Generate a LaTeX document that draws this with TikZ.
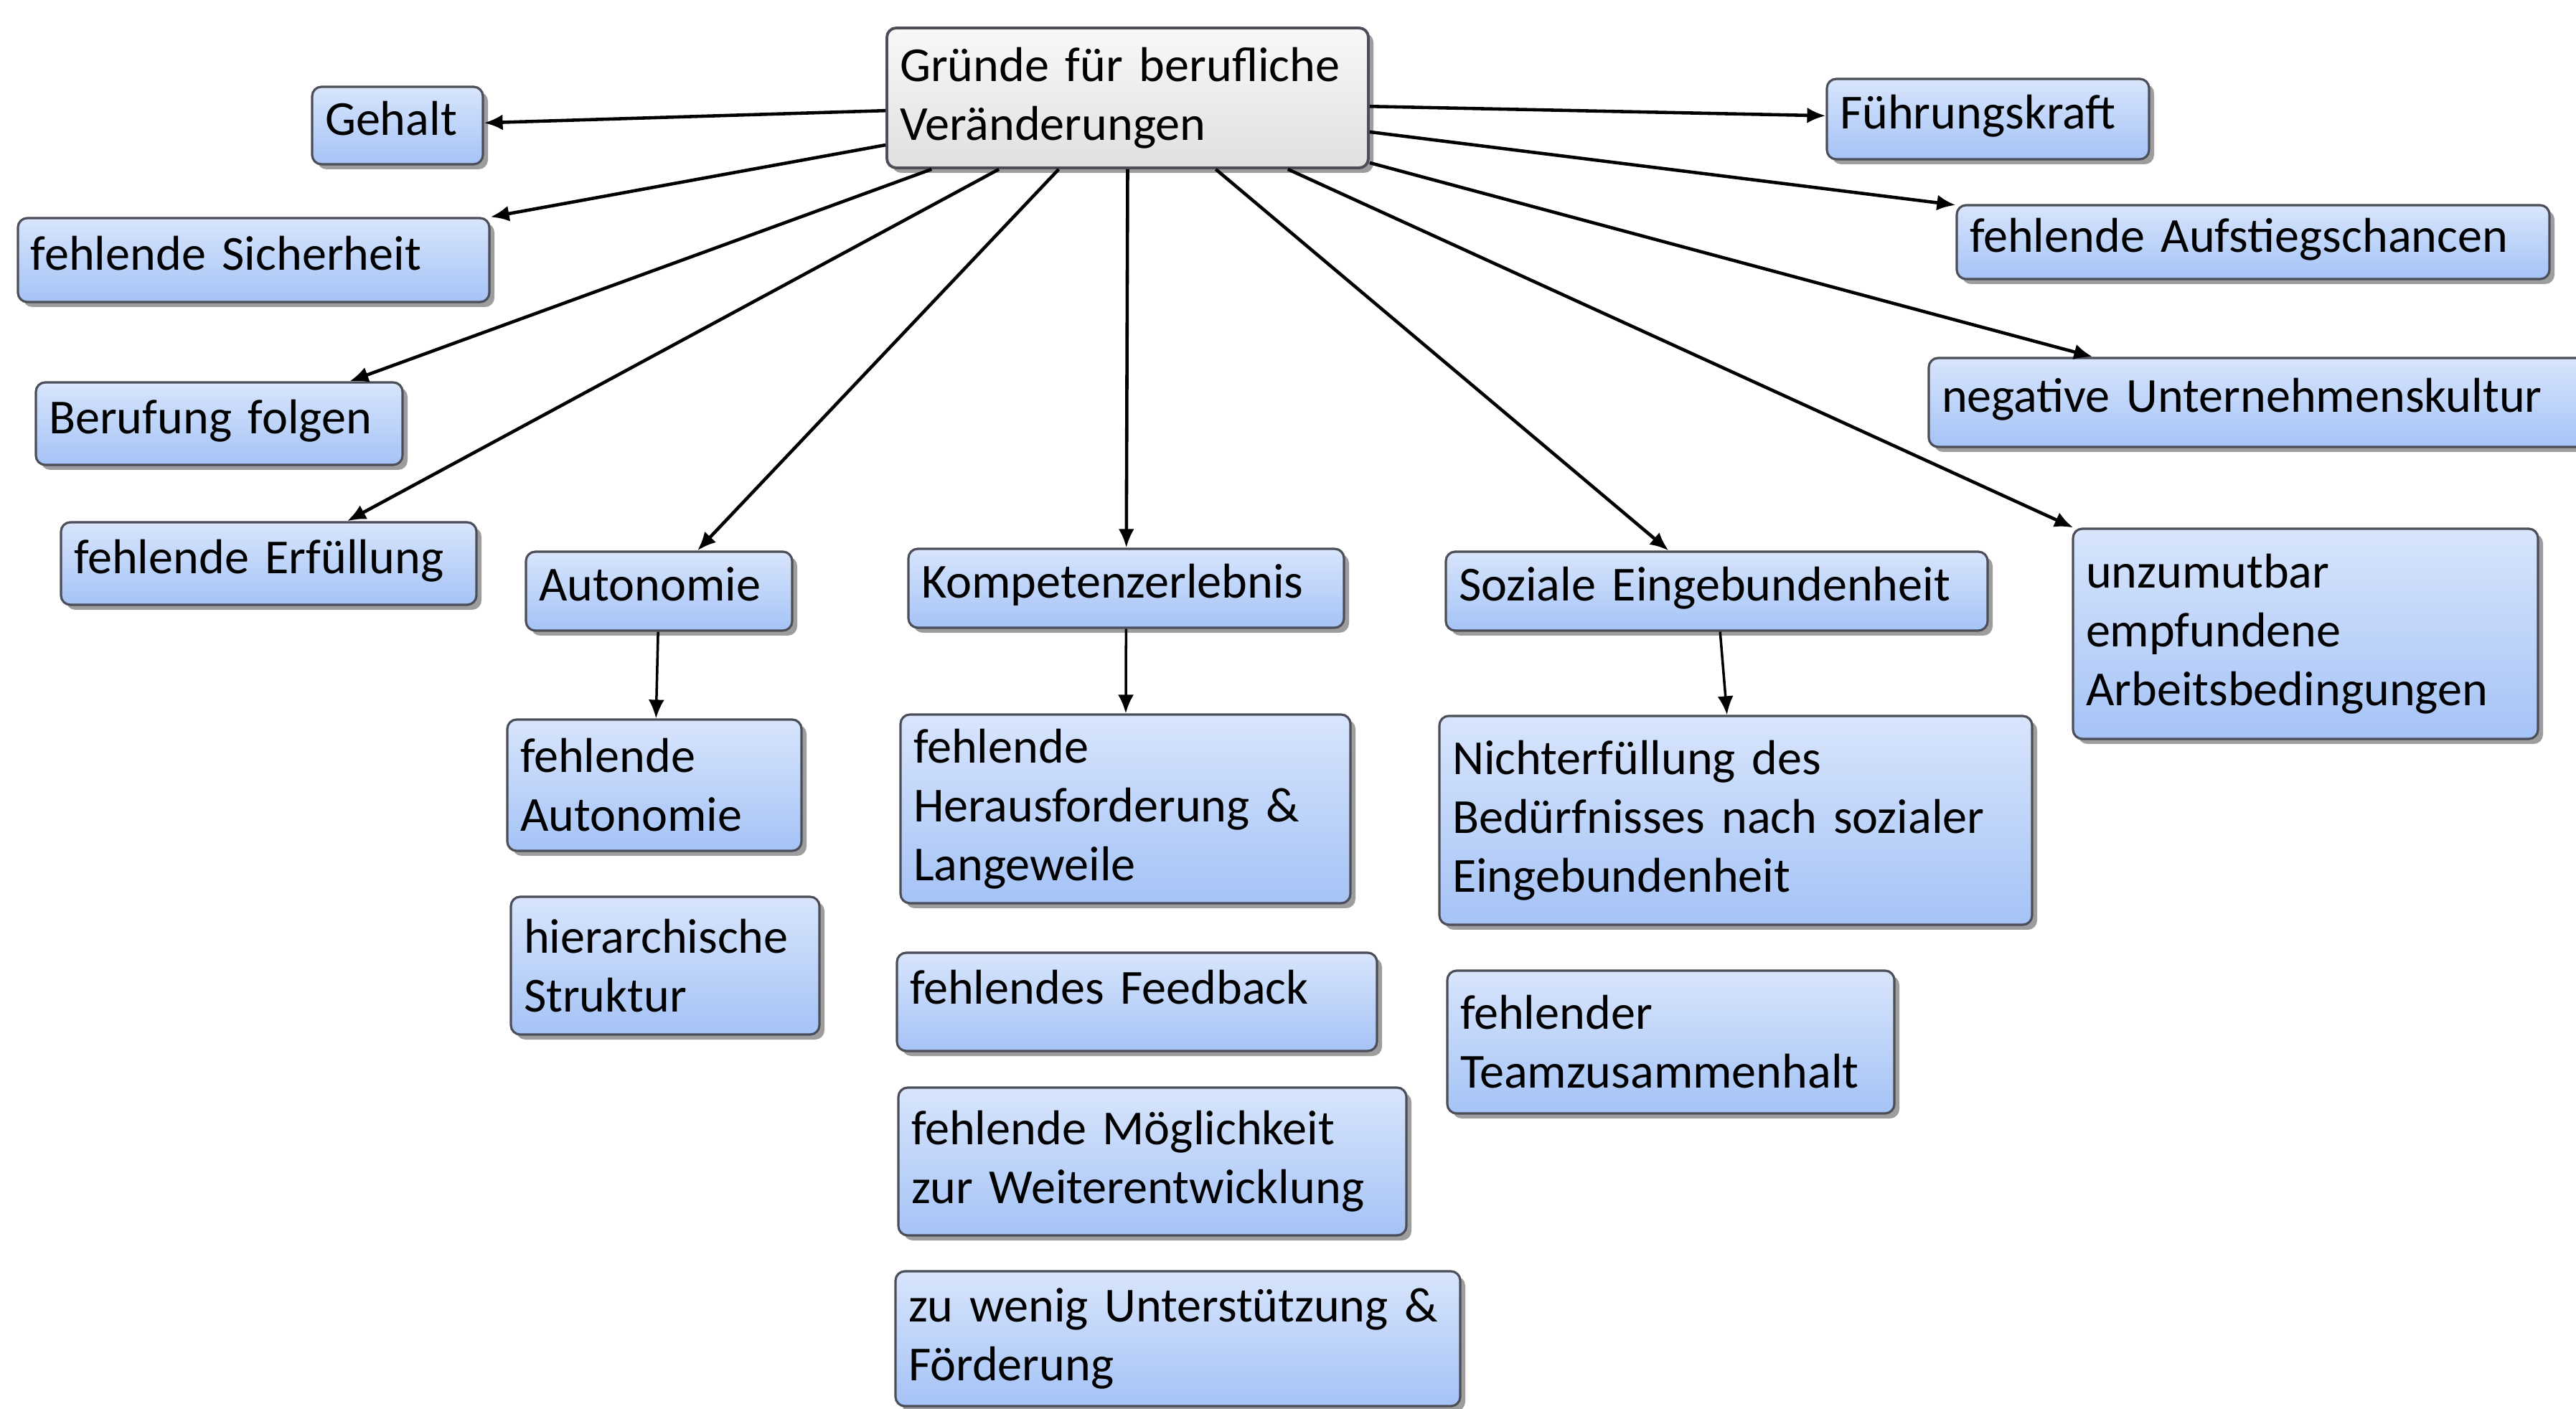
\documentclass[tikz,border=0pt]{standalone}
\usepackage{fontspec}
\setmainfont{Carlito}
\usetikzlibrary{shadows,arrows.meta}

\definecolor{boxtop}{RGB}{216,229,252}
\definecolor{boxbot}{RGB}{165,195,246}
\definecolor{boxline}{RGB}{75,78,88}
\definecolor{roottop}{RGB}{248,248,248}
\definecolor{rootbot}{RGB}{224,224,224}

\begin{document}
\begin{tikzpicture}[>={Latex[length=0.26cm,width=0.22cm]},
    font=\fontsize{19.4}{23.3}\selectfont,
    bx/.style 2 args={draw=boxline, line width=0.9pt, rounded corners=0.13cm,
               top color=boxtop, bottom color=boxbot,
               text width=#1cm, minimum height=#2cm, align=left,
               inner xsep=0.18cm, inner ysep=0.05cm,
               drop shadow={shadow xshift=0.07cm, shadow yshift=-0.07cm,
                            fill=black!70, opacity=0.55}},
    oneline/.style={text depth=0.2cm},
    rootbx/.style={bx={6.35}{1.95}, top color=roottop, bottom color=rootbot,
                   line width=1.1pt},
    arr/.style={->, line width=1.3pt},
    subarr/.style={->, line width=1pt}
]
    \useasboundingbox (0,0) rectangle (35.9,-19.64);

    % Center
    \node[rootbx] (root) at (15.715,-1.365) {Gründe für berufliche\\Veränderungen};

    % Left side
    \node[bx={2.02}{1.08}, oneline] (gehalt) at (5.54,-1.75) {Gehalt};
    \node[bx={6.21}{1.17}, oneline] (sich)   at (3.535,-3.625) {fehlende Sicherheit};
    \node[bx={4.75}{1.15}, oneline] (beruf)  at (3.055,-5.905) {Berufung folgen};
    \node[bx={5.43}{1.15}, oneline] (erf)    at (3.745,-7.855) {fehlende Erfüllung};

    % Right side
    \node[bx={4.13}{1.12}, oneline] (fuehr)   at (27.705,-1.66) {Führungskraft};
    \node[bx={7.90}{1.03}, oneline] (aufst)   at (31.40,-3.375) {fehlende Aufstiegschancen};
    \node[bx={8.94}{1.24}, oneline] (negkult) at (31.53,-5.61) {negative Unternehmenskultur};
    \node[bx={6.12}{2.93}] (unzu) at (32.13,-8.835) {unzumutbar\\empfundene\\Arbeitsbedingungen};

    % Basic needs
    \node[bx={3.35}{1.10}, oneline] (auto)   at (9.185,-8.24) {Autonomie};
    \node[bx={5.71}{1.10}, oneline] (komp)   at (15.695,-8.20) {Kompetenzerlebnis};
    \node[bx={7.19}{1.10}, oneline] (sozial) at (23.925,-8.24) {Soziale Eingebundenheit};

    % Autonomie column
    \node[bx={3.74}{1.83}] (fauto) at (9.12,-10.945) {fehlende\\Autonomie};
    \node[bx={3.94}{1.92}] (hier)  at (9.27,-13.46) {hierarchische\\Struktur};

    % Kompetenz column
    \node[bx={5.91}{2.63}] (herausf) at (15.685,-11.275) {fehlende\\Herausforderung \&\\Langeweile};
    \node[bx={6.33}{1.37}, text depth=0.42cm] (feedback) at (15.845,-13.965) {fehlendes Feedback};
    \node[bx={6.72}{2.06}] (moegl)   at (16.06,-16.19) {fehlende Möglichkeit\\zur Weiterentwicklung};
    \node[bx={7.51}{1.88}] (zuwenig) at (16.415,-18.66) {zu wenig Unterstützung \&\\Förderung};

    % Sozial column
    \node[bx={7.90}{2.91}] (nicht) at (24.19,-11.435) {Nichterfüllung des\\Bedürfnisses nach sozialer\\Eingebundenheit};
    \node[bx={5.87}{1.99}] (team)  at (23.285,-14.525) {fehlender\\Teamzusammenhalt};

    % Arrows from the center
    \draw[arr] (root.183) -- (gehalt);
    \draw[arr] (root.191) -- (sich);
    \draw[arr] (root.200) -- (beruf.18);
    \draw[arr] (root.209) -- (erf);
    \draw[arr] (root.226) -- (auto);
    \draw[arr] (root.270) -- (komp);
    \draw[arr] (root.321) -- (sozial);
    \draw[arr] (root.336) -- (unzu);
    \draw[arr] (root.345) -- (negkult);
    \draw[arr] (root.352.5) -- (aufst);
    \draw[arr] (root.358) -- (fuehr);

    % Arrows to the sub-items
    \draw[subarr] (auto) -- (fauto);
    \draw[subarr] (komp) -- (herausf);
    \draw[subarr] (sozial) -- (nicht);
\end{tikzpicture}
\end{document}
